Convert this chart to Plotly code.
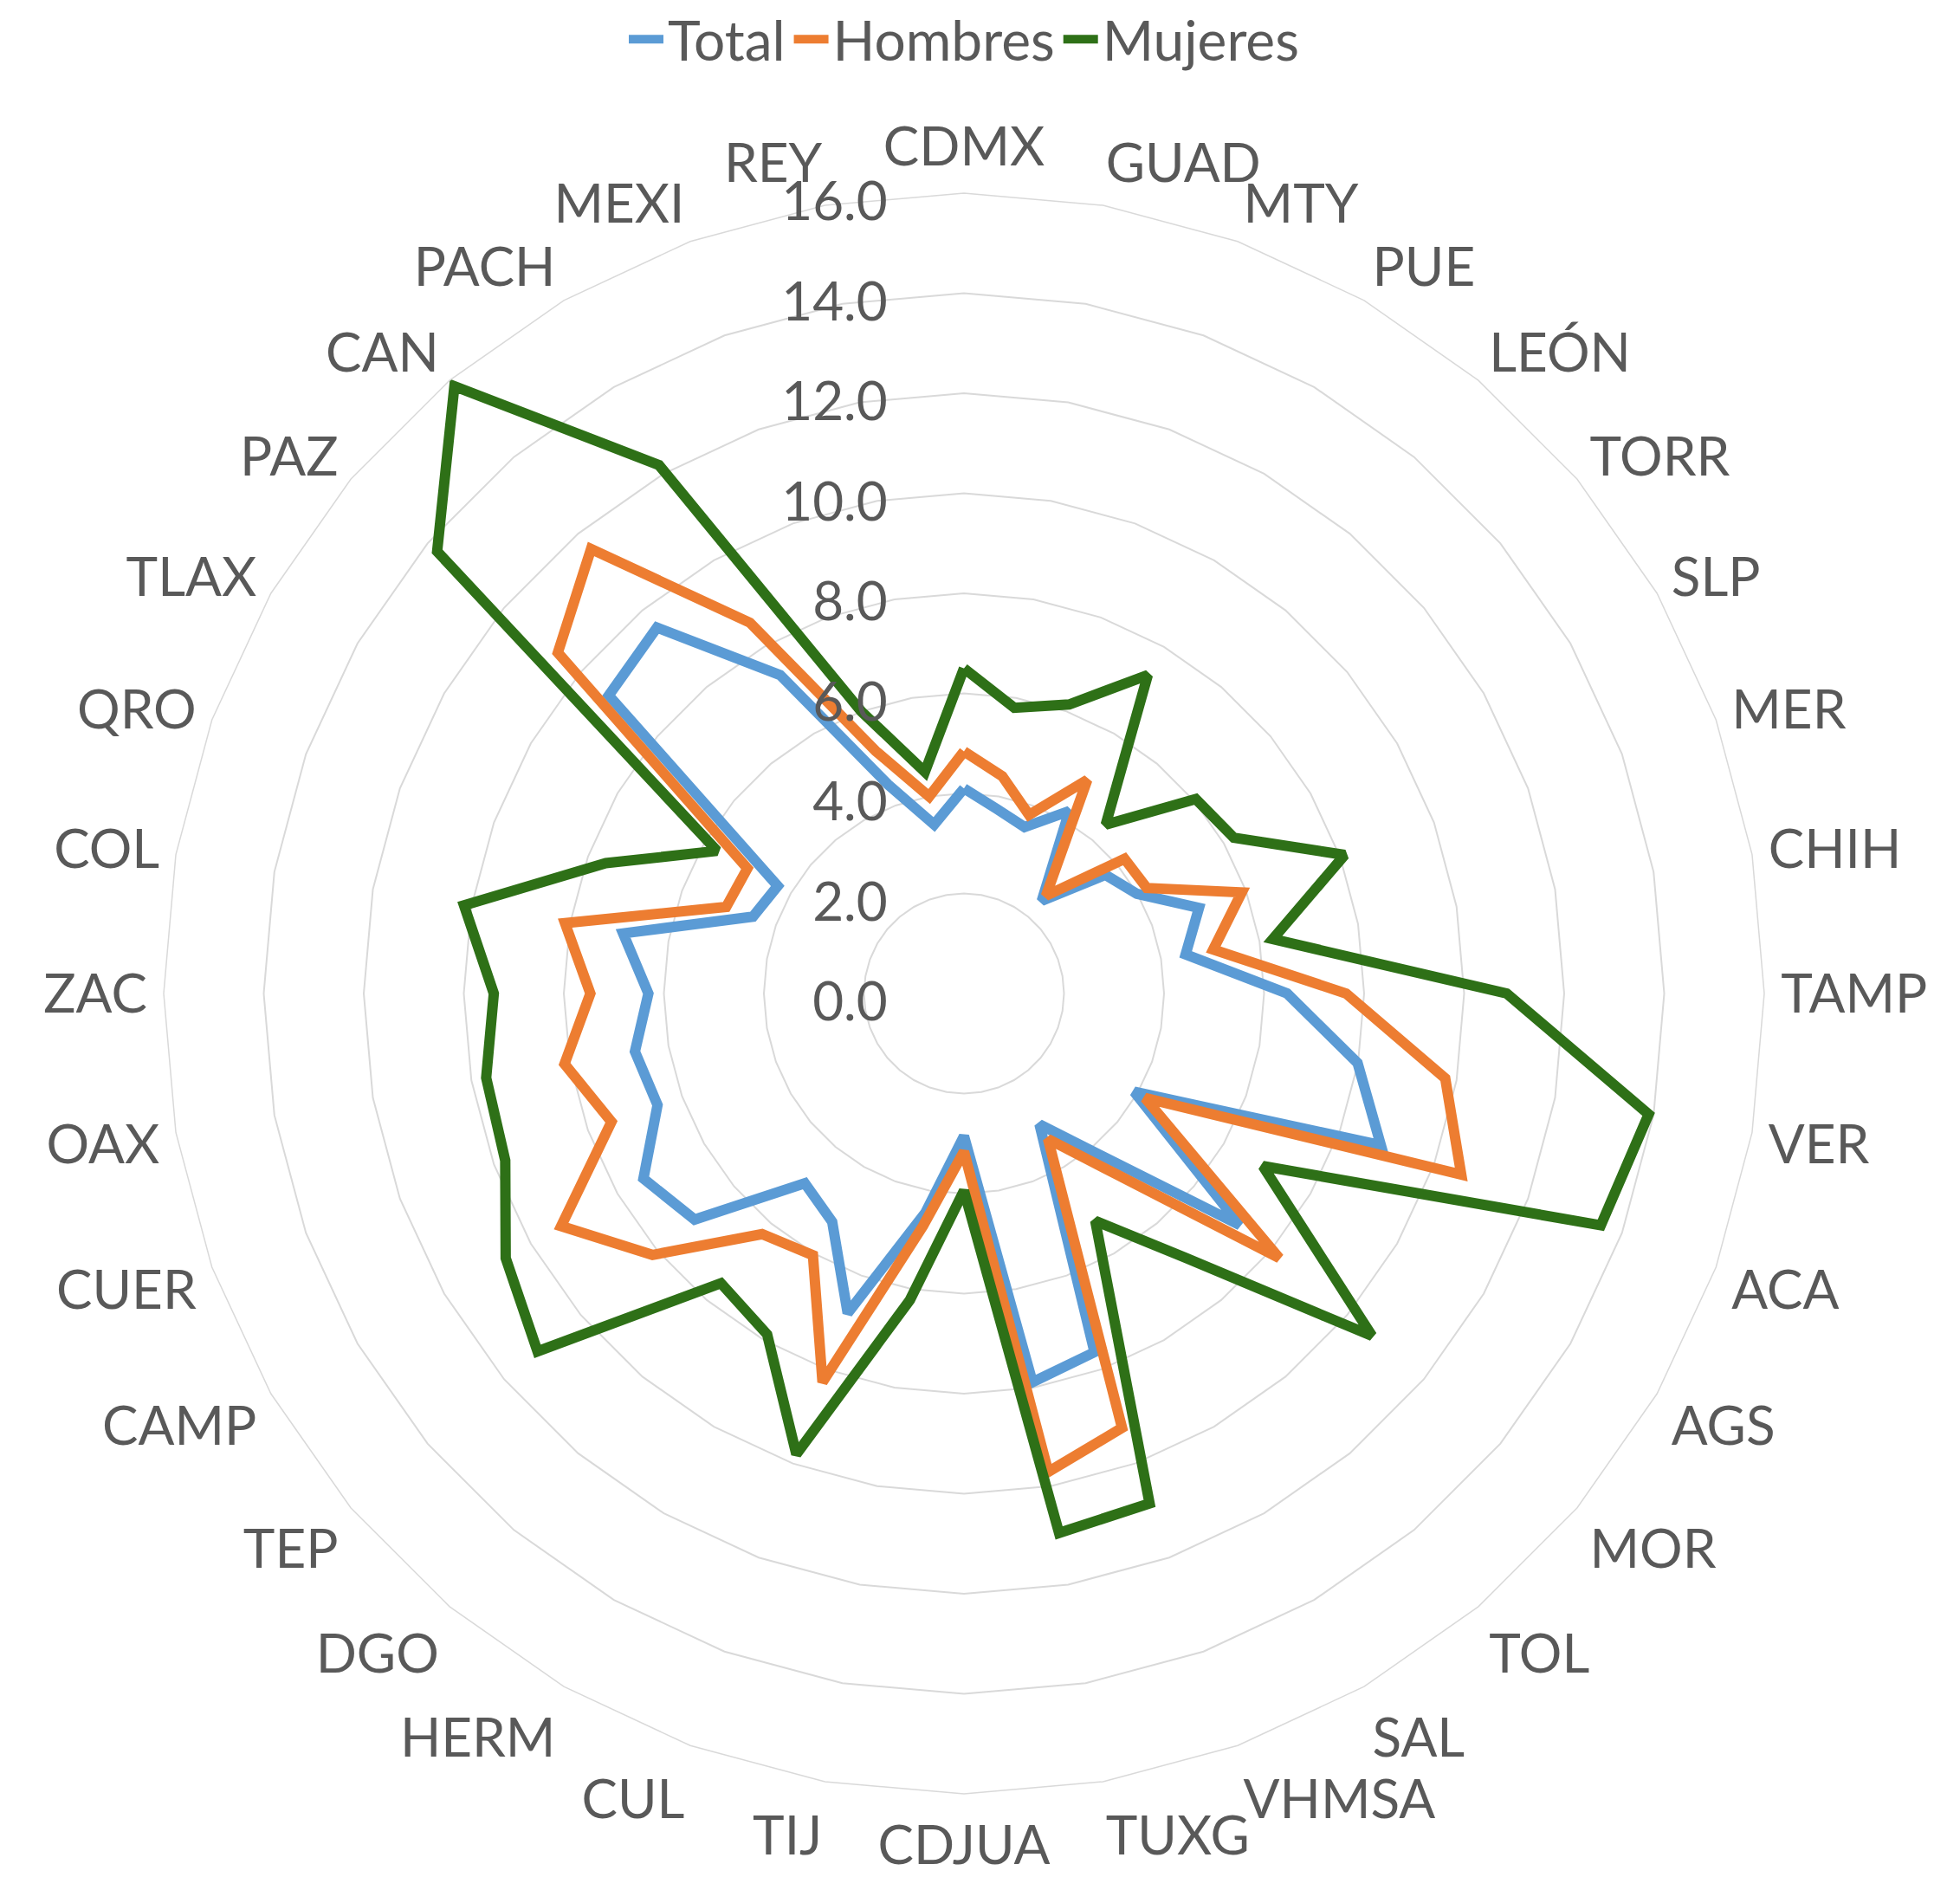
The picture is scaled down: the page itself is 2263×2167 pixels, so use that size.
import plotly.graph_objects as go

# Categories in clockwise order, starting at the top
ciudades = ["CDMX", "GUAD", "MTY", "PUE", "LEÓN", "TORR", "SLP", "MER", "CHIH", "TAMP",
            "VER", "ACA", "AGS", "MOR", "TOL", "SAL", "VHMSA", "TUXG", "CDJUA", "TIJ",
            "CUL", "HERM", "DGO", "TEP", "CAMP", "CUER", "OAX", "ZAC", "COL", "QRO",
            "TLAX", "PAZ", "CAN", "PACH", "MEXI", "REY"]

total = [4.1, 3.75, 3.54, 4.21, 2.42, 3.69, 3.99, 5.0, 4.5, 6.46,
         7.99, 8.87, 3.93, 7.2, 4.2, 3.02, 7.63, 7.89, 2.85, 4.45,
         6.8, 5.27, 4.95, 7.03, 7.4, 6.52, 6.68, 6.31, 6.92, 4.49,
         4.3, 9.27, 9.55, 7.35, 4.45, 3.43]

hombres = [4.84, 4.41, 3.8, 4.93, 2.55, 4.19, 4.22, 5.91, 5.06, 7.64,
           9.77, 10.58, 4.18, 8.23, 4.7, 3.36, 9.24, 9.71, 3.16, 4.72,
           8.27, 6.04, 6.28, 8.13, 9.3, 7.5, 8.11, 7.47, 8.1, 5.06,
           5.0, 10.6, 11.6, 8.56, 5.16, 4.0]

mujeres = [6.5, 5.8, 6.15, 7.35, 4.41, 6.05, 6.23, 8.1, 6.27, 10.85,
           13.9, 13.55, 6.9, 10.65, 6.9, 5.25, 10.85, 10.95, 3.94, 6.22,
           9.8, 7.87, 7.56, 11.13, 10.58, 9.76, 9.7, 9.4, 10.15, 7.62,
           5.7, 13.75, 15.85, 12.2, 6.0, 4.5]

series = [("Total", total, "#5B9BD5"),
          ("Hombres", hombres, "#ED7D31"),
          ("Mujeres", mujeres, "#2E7017")]

FONT = "Lato"
GRAY = "#595959"
GRID = "#D9D9D9"

fig = go.Figure()
for nombre, valores, color in series:
    # close the polygon like Excel's radar chart
    fig.add_trace(go.Scatterpolar(
        r=valores + valores[:1],
        theta=ciudades + ciudades[:1],
        mode="lines",
        name=nombre,
        line=dict(color=color, width=12),
    ))

fig.update_layout(
    width=2263,
    height=2167,
    paper_bgcolor="white",
    plot_bgcolor="white",
    # fixed margins so the legend does not push the radar down
    margin=dict(l=181, r=234, t=215, b=104, autoexpand=False),
    font=dict(family=FONT, color=GRAY),
    legend=dict(
        orientation="h",
        x=0.5, xanchor="center",
        y=1.096, yanchor="middle",
        font=dict(size=64, color=GRAY, family=FONT),
        itemwidth=40,
        bgcolor="rgba(0,0,0,0)",
    ),
    polar=dict(
        bgcolor="white",
        gridshape="linear",
        radialaxis=dict(
            range=[0, 16],
            dtick=2,
            tickformat=".1f",
            angle=90,
            side="counterclockwise",
            showline=False,
            ticks="outside",
            ticklen=32,
            tickcolor="rgba(0,0,0,0)",
            gridcolor=GRID,
            gridwidth=1.5,
            tickfont=dict(size=62, color=GRAY, family=FONT),
        ),
        angularaxis=dict(
            direction="clockwise",
            rotation=90,
            showgrid=False,
            showline=True,
            linecolor=GRID,
            linewidth=1.5,
            ticks="outside",
            ticklen=6,
            tickcolor="rgba(0,0,0,0)",
            tickfont=dict(size=62, color=GRAY, family=FONT),
        ),
    ),
)

fig.write_html("out.html")
